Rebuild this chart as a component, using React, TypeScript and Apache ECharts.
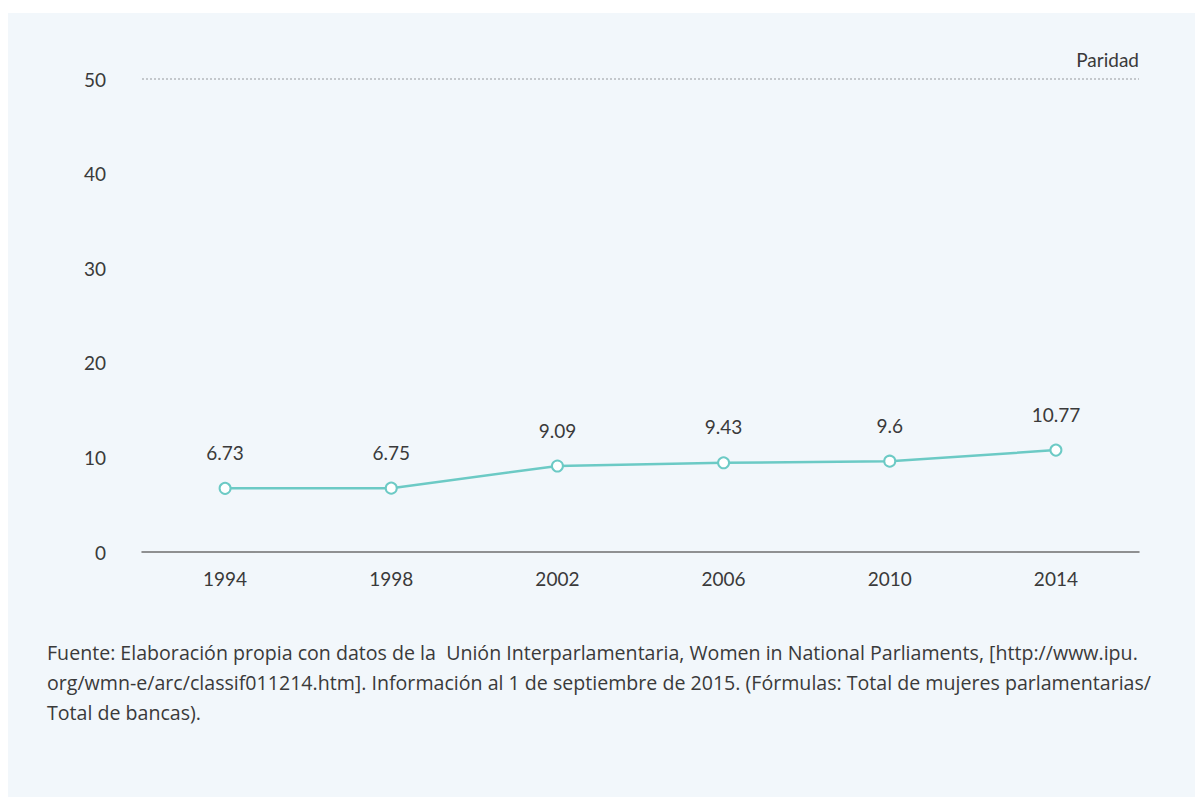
import React, { useEffect, useRef } from "react";
import * as echarts from "echarts";

const years = ["1994", "1998", "2002", "2006", "2010", "2014"];
const values = [6.73, 6.75, 9.09, 9.43, 9.6, 10.77];
const parityValue = 50;
const parityLabel = "Paridad";
const captionLines = [
  "Fuente: Elaboración propia con datos de la  Unión Interparlamentaria, Women in National Parliaments, [http://www.ipu.",
  "org/wmn-e/arc/classif011214.htm]. Información al 1 de septiembre de 2015. (Fórmulas: Total de mujeres parlamentarias/",
  "Total de bancas).",
];

const FONT = "Lato, 'Open Sans', sans-serif";
const CAPTION_FONT = "'Open Sans', Lato, sans-serif";
const TEXT = "#3a3a3a";
const TEAL = "#6ccac5";

export default function App() {
  const ref = useRef<HTMLDivElement>(null);
  useEffect(() => {
    if (!ref.current) return;
    const chart = echarts.init(ref.current, undefined, { renderer: "svg" });
    chart.setOption({
      animation: false,
      backgroundColor: "#f2f7fb",
      textStyle: { fontFamily: FONT },
      grid: { left: 134, right: 56, top: 66, height: 473 },
      xAxis: {
        type: "category",
        data: years,
        boundaryGap: true,
        axisLine: { lineStyle: { color: "#6f6f6f", width: 1.5 } },
        axisTick: { show: false },
        axisLabel: { color: TEXT, fontSize: 19, margin: 17, fontFamily: FONT },
      },
      yAxis: {
        type: "value",
        min: 0,
        max: 50,
        interval: 10,
        axisLine: { show: false },
        axisTick: { show: false },
        splitLine: { show: false },
        axisLabel: { color: TEXT, fontSize: 19, margin: 36, fontFamily: FONT },
      },
      series: [
        {
          type: "line",
          data: values,
          symbol: "emptyCircle",
          symbolSize: 11,
          lineStyle: { color: TEAL, width: 2.5 },
          itemStyle: { color: TEAL, borderWidth: 3, borderColor: TEAL },
          label: {
            show: true,
            position: "top",
            distance: 20,
            color: TEXT,
            fontSize: 19,
            fontFamily: FONT,
          },
          markLine: {
            silent: true,
            symbol: "none",
            lineStyle: { color: "#b5b9bd", type: [2, 2], width: 1.5 },
            label: {
              show: true,
              position: "insideEndTop",
              formatter: parityLabel,
              color: TEXT,
              fontSize: 19,
              fontFamily: FONT,
              distance: [0, 10],
            },
            data: [{ yAxis: parityValue }],
          },
        },
      ],
      graphic: captionLines.map((t, i) => ({
        type: "text",
        left: 39,
        top: 629 + i * 30,
        style: { text: t, fill: TEXT, fontSize: 19.6, fontFamily: CAPTION_FONT },
      })),
    });
    return () => chart.dispose();
  }, []);
  return (
    <div
      ref={ref}
      style={{ position: "absolute", left: 8, top: 13, width: 1187, height: 784 }}
    />
  );
}
